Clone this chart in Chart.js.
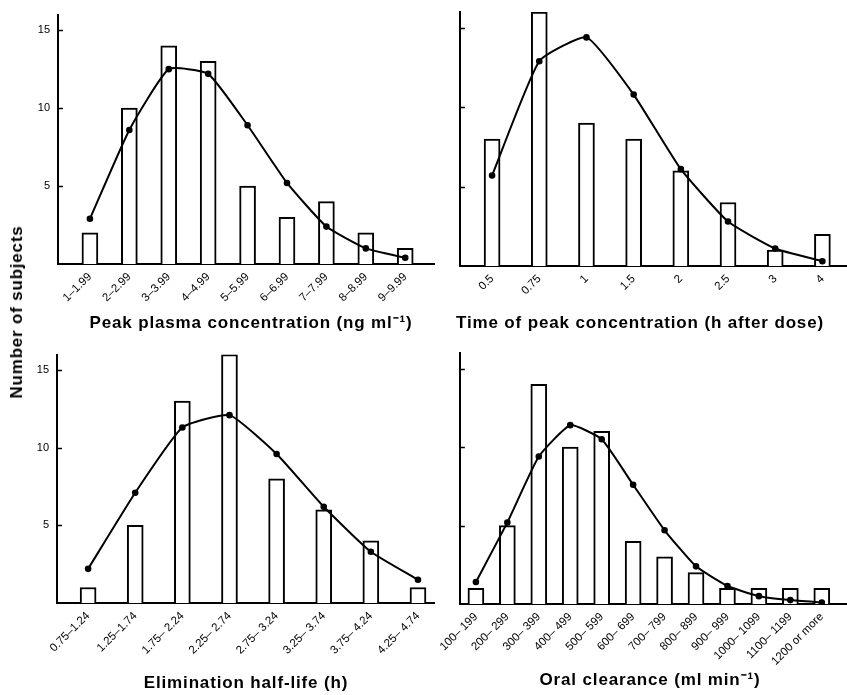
<!DOCTYPE html>
<html>
<head>
<meta charset="utf-8">
<script src="https://cdn.jsdelivr.net/npm/chart.js@4.4.0/dist/chart.umd.min.js"></script>
<style>
  body { margin: 0; background: #fff; }
  #wrap { position: relative; width: 847px; height: 695px; overflow: hidden; }
  .panel { position: absolute; }
  .title {
    position: absolute; font: bold 17px 'Liberation Sans', Arial, sans-serif;
    letter-spacing: 0.85px; line-height: 17px; white-space: nowrap; color: #000;
    transform: translateX(-50%);
  }
  #ytitle {
    position: absolute; left: 17px; top: 312px; white-space: nowrap;
    font: bold 17px 'Liberation Sans', Arial, sans-serif; letter-spacing: 0.8px;
    transform: translate(-50%, -50%) rotate(-90deg); color: #000;
  }
</style>
</head>
<body>
<div id="wrap">
  <div class="panel" style="left:0;top:0;width:440px;height:340px"><canvas id="c1"></canvas></div>
  <div class="panel" style="left:435px;top:0;width:417px;height:340px"><canvas id="c2"></canvas></div>
  <div class="panel" style="left:0;top:340px;width:440px;height:355px"><canvas id="c3"></canvas></div>
  <div class="panel" style="left:435px;top:340px;width:417px;height:355px"><canvas id="c4"></canvas></div>
  <div class="title" style="left:251px;top:314px">Peak plasma concentration (ng ml⁻¹)</div>
  <div class="title" style="left:640px;top:314px">Time of peak concentration (h after dose)</div>
  <div class="title" style="left:246px;top:674px">Elimination half-life (h)</div>
  <div class="title" style="left:650px;top:671px">Oral clearance (ml min⁻¹)</div>
  <div id="ytitle">Number of subjects</div>
</div>
<script>
// y axis
const yTicks = [5, 10, 15];
const yMax = 16;

// peak plasma concentration
const peakConcLabels = ['1–1.99', '2–2.99', '3–3.99', '4–4.99', '5–5.99', '6–6.99', '7–7.99', '8–8.99', '9–9.99'];
const peakConcCounts = [2, 10, 14, 13, 5, 3, 4, 2, 1];
const peakConcCurve = [2.9, 8.6, 12.5, 12.2, 8.9, 5.2, 2.4, 1.0, 0.4];

// time of peak concentration
const peakTimeLabels = ['0.5', '0.75', '1', '1.5', '2', '2.5', '3', '4'];
const peakTimeCounts = [8, 16, 9, 8, 6, 4, 1, 2];
const peakTimeCurve = [5.7, 12.9, 14.4, 10.8, 6.1, 2.8, 1.1, 0.3];

// elimination half-life
const halfLifeLabels = ['0.75–1.24', '1.25–1.74', '1.75– 2.24', '2.25– 2.74', '2.75– 3.24', '3.25– 3.74', '3.75– 4.24', '4.25– 4.74'];
const halfLifeCounts = [1, 5, 13, 16, 8, 6, 4, 1];
const halfLifeCurve = [2.2, 7.1, 11.3, 12.1, 9.6, 6.2, 3.3, 1.5];

// oral clearance
const clearanceLabels = ['100– 199', '200– 299', '300– 399', '400– 499', '500– 599', '600– 699', '700– 799', '800– 899', '900– 999', '1000– 1099', '1100– 1199', '1200 or more'];
const clearanceCounts = [1, 5, 14, 10, 11, 4, 3, 2, 1, 1, 1, 1];
const clearanceCurve = [1.4, 5.2, 9.4, 11.4, 10.5, 7.6, 4.7, 2.4, 1.15, 0.5, 0.25, 0.1];

Chart.defaults.font.family = "'Liberation Sans', Arial, sans-serif";
Chart.defaults.color = '#000';

// short tick marks pointing into the plot
const inwardTicks = {
  id: 'inwardTicks',
  afterDatasetsDraw(chart) {
    const y = chart.scales.y;
    const ctx = chart.ctx;
    ctx.save();
    ctx.strokeStyle = '#000';
    ctx.lineWidth = 1.5;
    yTicks.forEach(v => {
      const py = Math.round(y.getPixelForValue(v)) + 0.5;
      ctx.beginPath();
      ctx.moveTo(y.right, py);
      ctx.lineTo(y.right + 5, py);
      ctx.stroke();
    });
    ctx.restore();
  }
};

function makePanel(id, labels, counts, curve, opt) {
  const canvas = document.getElementById(id);
  return new Chart(canvas, {
    type: 'bar',
    data: {
      datasets: [
        {
          type: 'line',
          data: curve.map((v, i) => ({ x: i, y: v })),
          borderColor: '#000',
          borderWidth: 2,
          backgroundColor: '#000',
          pointRadius: 2.3,
          pointBackgroundColor: '#000',
          tension: 0.15,
          order: 0,
        },
        {
          data: counts.map((v, i) => ({ x: i, y: v })),
          backgroundColor: '#fff',
          borderColor: '#000',
          borderWidth: 2,
          barThickness: 16,
          order: 1,
        },
      ],
    },
    options: {
      responsive: true,
      maintainAspectRatio: false,
      animation: false,
      events: [],
      layout: { padding: { top: opt.top, left: 0, right: 0, bottom: 0 } },
      plugins: { legend: { display: false }, tooltip: { enabled: false } },
      scales: {
        x: {
          type: 'linear',
          offset: false,
          bounds: 'data',
          min: opt.xMin,
          max: opt.xMax,
          grid: { display: false, drawTicks: false },
          border: { display: true, color: '#000', width: 2 },
          afterBuildTicks: (axis) => { axis.ticks = labels.map((_, i) => ({ value: i })); },
          afterFit: (scale) => { scale.height = opt.xHeight; },
          ticks: {
            autoSkip: false,
            maxRotation: 45,
            minRotation: 45,
            padding: 6,
            font: { size: 11.5 },
            callback: (v) => labels[v],
          },
        },
        y: {
          min: 0,
          max: yMax,
          grid: { display: false, drawTicks: false },
          border: { display: true, color: '#000', width: 2 },
          afterBuildTicks: (axis) => { axis.ticks = yTicks.map(v => ({ value: v })); },
          afterFit: (scale) => { scale.width = opt.yWidth; },
          ticks: { display: opt.yLabels, padding: 8, font: { size: 11 } },
        },
      },
    },
    plugins: [inwardTicks],
  });
}

makePanel('c1', peakConcLabels, peakConcCounts, peakConcCurve,
  { top: 12, xHeight: 76, yWidth: 58, xMin: -0.81, xMax: 8.73, yLabels: true });
makePanel('c2', peakTimeLabels, peakTimeCounts, peakTimeCurve,
  { top: 12, xHeight: 74, yWidth: 25, xMin: -0.68, xMax: 7.5, yLabels: false });
makePanel('c3', halfLifeLabels, halfLifeCounts, halfLifeCurve,
  { top: 12, xHeight: 92, yWidth: 57, xMin: -0.66, xMax: 7.34, yLabels: true });
makePanel('c4', clearanceLabels, clearanceCounts, clearanceCurve,
  { top: 13, xHeight: 91, yWidth: 24, xMin: -0.51, xMax: 11.77, yLabels: false });
</script>
</body>
</html>
